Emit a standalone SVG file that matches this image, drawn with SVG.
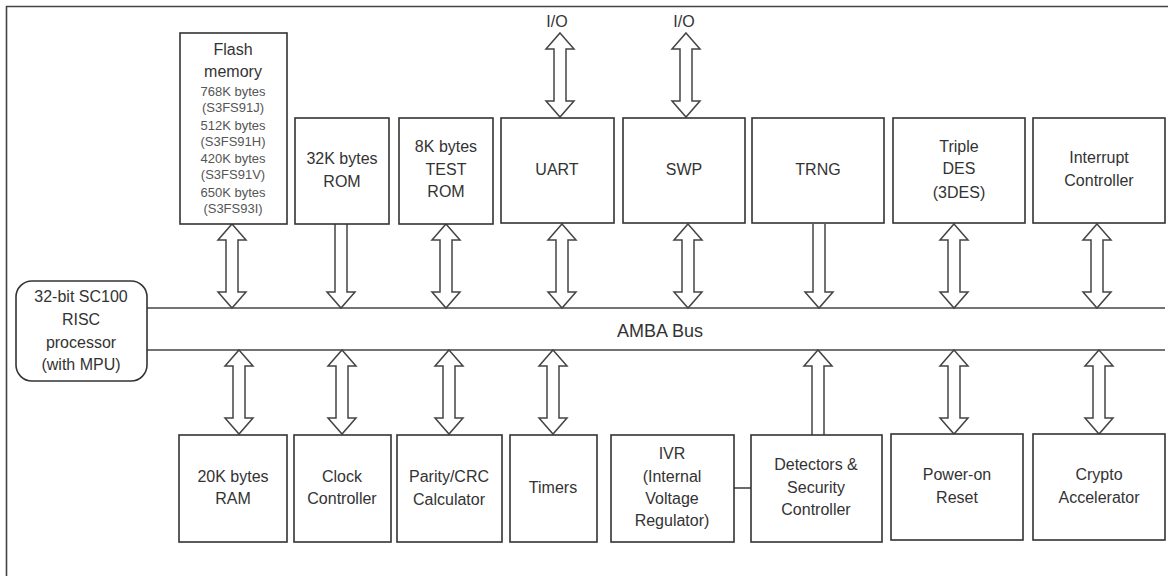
<svg xmlns="http://www.w3.org/2000/svg" xmlns:xlink="http://www.w3.org/1999/xlink" width="1168" height="576" viewBox="0 0 1168 576">
<style>
.box{fill:#fff;stroke:#333;stroke-width:1.6}
.arr{fill:#fff;stroke:#444;stroke-width:1.5;stroke-linejoin:miter}
.ln{fill:none;stroke:#444;stroke-width:1.6}
text{font-family:"Liberation Sans",Arial,sans-serif;font-size:16px;fill:#333;text-anchor:middle}
.sm{font-size:13px;fill:#555}
.bus{font-size:18px}
</style>
<defs>
<path id="dbl" d="M0,0 L14,16 L6,16 L6,68 L14,68 L0,84 L-14,68 L-6,68 L-6,16 L-14,16 Z"/>
<path id="down" d="M-6,0 V68 H-14 L0,84 L14,68 H6 V0"/>
<path id="up" d="M-6,85 V16 H-14 L0,0 L14,16 H6 V85"/>
</defs>
<rect width="1168" height="576" fill="#fff"/>
<path class="ln" d="M6.5,576 V6.5 H1168" stroke-width="2" stroke="#666"/>

<g id="connectors">
<line class="ln" x1="147" y1="308" x2="1165" y2="308"/>
<line class="ln" x1="147" y1="350" x2="1165" y2="350"/>
<line class="ln" x1="734" y1="488" x2="751" y2="488"/>
<use href="#dbl" class="arr" transform="translate(560,33)"/>
<use href="#dbl" class="arr" transform="translate(686,33)"/>
<use href="#dbl" class="arr" transform="translate(232,224)"/>
<use href="#down" class="arr" transform="translate(341,224)"/>
<use href="#dbl" class="arr" transform="translate(446,224)"/>
<use href="#dbl" class="arr" transform="translate(562,224)"/>
<use href="#dbl" class="arr" transform="translate(688,224)"/>
<use href="#down" class="arr" transform="translate(819,224)"/>
<use href="#dbl" class="arr" transform="translate(954,224)"/>
<use href="#dbl" class="arr" transform="translate(1097,224)"/>
<use href="#dbl" class="arr" transform="translate(239,350)"/>
<use href="#dbl" class="arr" transform="translate(342,350)"/>
<use href="#dbl" class="arr" transform="translate(449,350)"/>
<use href="#dbl" class="arr" transform="translate(553,350)"/>
<use href="#up" class="arr" transform="translate(818,350)"/>
<use href="#dbl" class="arr" transform="translate(954,350)"/>
<use href="#dbl" class="arr" transform="translate(1099,350)"/>
</g>

<text x="557" y="27">I/O</text>
<text x="684" y="27">I/O</text>
<text class="bus" x="660" y="337">AMBA Bus</text>

<g id="cpu">
<rect class="box" x="16" y="281" width="131" height="100" rx="16"/>
<text x="81" y="302">32-bit SC100</text>
<text x="81" y="325">RISC</text>
<text x="81" y="348">processor</text>
<text x="81" y="370">(with MPU)</text>
</g>

<g id="flash">
<rect class="box" x="180" y="33" width="107" height="191"/>
<text x="233" y="55" fill="#555">Flash</text>
<text x="233" y="77" fill="#555">memory</text>
<text class="sm" x="233" y="96">768K bytes</text>
<text class="sm" x="233" y="112">(S3FS91J)</text>
<text class="sm" x="233" y="130">512K bytes</text>
<text class="sm" x="233" y="146">(S3FS91H)</text>
<text class="sm" x="233" y="163">420K bytes</text>
<text class="sm" x="233" y="179">(S3FS91V)</text>
<text class="sm" x="233" y="197">650K bytes</text>
<text class="sm" x="233" y="213">(S3FS93I)</text>
</g>

<g id="rom">
<rect class="box" x="295" y="118" width="94" height="106"/>
<text x="342" y="164">32K bytes</text>
<text x="342" y="187">ROM</text>
</g>

<g id="testrom">
<rect class="box" x="399" y="118" width="94" height="106"/>
<text x="446" y="152">8K bytes</text>
<text x="446" y="175">TEST</text>
<text x="446" y="197">ROM</text>
</g>

<g id="uart">
<rect class="box" x="501" y="118" width="113" height="105"/>
<text x="557" y="175">UART</text>
</g>

<g id="swp">
<rect class="box" x="623" y="118" width="122" height="105"/>
<text x="684" y="175" fill="#555">SWP</text>
</g>

<g id="trng">
<rect class="box" x="752" y="118" width="132" height="105"/>
<text x="818" y="175">TRNG</text>
</g>

<g id="tdes">
<rect class="box" x="893" y="118" width="132" height="105"/>
<text x="959" y="152">Triple</text>
<text x="959" y="174">DES</text>
<text x="959" y="198">(3DES)</text>
</g>

<g id="intc">
<rect class="box" x="1033" y="118" width="132" height="105"/>
<text x="1099" y="163" fill="#444">Interrupt</text>
<text x="1099" y="186" fill="#444">Controller</text>
</g>

<g id="ram">
<rect class="box" x="179" y="435" width="108" height="107"/>
<text x="233" y="482">20K bytes</text>
<text x="233" y="504">RAM</text>
</g>

<g id="clock">
<rect class="box" x="294" y="435" width="97" height="107"/>
<text x="342" y="482">Clock</text>
<text x="342" y="504">Controller</text>
</g>

<g id="crc">
<rect class="box" x="397" y="435" width="105" height="107"/>
<text x="449" y="482">Parity/CRC</text>
<text x="449" y="505">Calculator</text>
</g>

<g id="timers">
<rect class="box" x="510" y="435" width="87" height="107"/>
<text x="553" y="493">Timers</text>
</g>

<g id="ivr">
<rect class="box" x="611" y="435" width="123" height="107"/>
<text x="672" y="459">IVR</text>
<text x="672" y="482">(Internal</text>
<text x="672" y="504">Voltage</text>
<text x="672" y="526">Regulator)</text>
</g>

<g id="detectors">
<rect class="box" x="751" y="435" width="131" height="107"/>
<text x="816" y="470">Detectors &amp;</text>
<text x="816" y="493">Security</text>
<text x="816" y="515">Controller</text>
</g>

<g id="por">
<rect class="box" x="891" y="434" width="132" height="106"/>
<text x="957" y="480">Power-on</text>
<text x="957" y="503">Reset</text>
</g>

<g id="crypto">
<rect class="box" x="1033" y="434" width="132" height="106"/>
<text x="1099" y="480">Crypto</text>
<text x="1099" y="503">Accelerator</text>
</g>
</svg>
